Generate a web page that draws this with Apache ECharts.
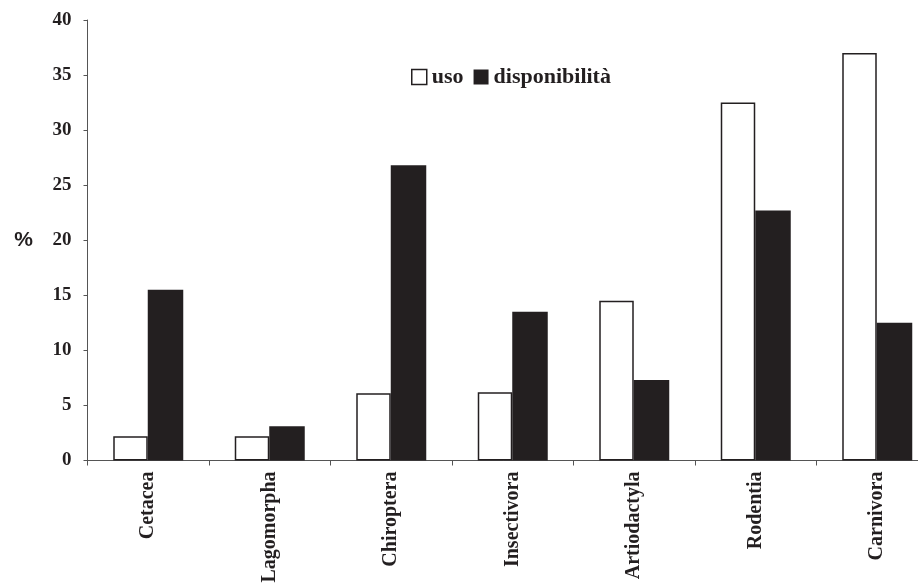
<!DOCTYPE html>
<html>
<head>
<meta charset="utf-8">
<script src="https://cdn.jsdelivr.net/npm/echarts@6/dist/echarts.min.js"></script>
<style>html,body{margin:0;padding:0;background:#fff}#c{width:918px;height:585px}</style>
</head>
<body>
<div id="c"></div>
<script>
const categories = ['Cetacea','Lagomorpha','Chiroptera','Insectivora','Artiodactyla','Rodentia','Carnivora'];
const uso = [2.2, 2.2, 6.1, 6.2, 14.5, 32.5, 37.0];
const disponibilita = [15.5, 3.1, 26.8, 13.5, 7.3, 22.7, 12.5];
const yTicks = [0, 5, 10, 15, 20, 25, 30, 35, 40];

const serif = '"Liberation Serif","Times New Roman",serif';
const chart = echarts.init(document.getElementById('c'), null, {renderer:'canvas'});
chart.setOption({
  backgroundColor: '#fff',
  animation: false,
  grid: {left: 87.5, top: 20, width: 850.5, height: 440.5, containLabel: false, outerBoundsMode: 'none'},
  legend: {
    left: 406, top: 61,
    itemWidth: 15, itemHeight: 15, itemGap: 10,
    textStyle: {fontFamily: serif, fontWeight: 'bold', fontSize: 22, color: '#231f20', padding: [0,0,0,0]},
    data: [
      {name: 'uso', icon: 'rect', itemStyle: {color: '#fff', borderColor: '#231f20', borderWidth: 1.5}},
      {name: 'disponibilità', icon: 'rect', itemStyle: {color: '#231f20'}}
    ]
  },
  xAxis: {
    type: 'category',
    data: categories,
    axisLine: {lineStyle: {color: '#555', width: 1}},
    axisTick: {show: true, length: 5, lineStyle: {color: '#555'}},
    axisLabel: {rotate: 90, margin: 11, fontFamily: serif, fontWeight: 'bold', fontSize: 20, color: '#231f20'}
  },
  yAxis: {
    type: 'value',
    min: yTicks[0], max: yTicks[yTicks.length-1], interval: 5,
    name: '%',
    nameLocation: 'middle', nameRotate: 0, nameGap: 64,
    nameTextStyle: {fontFamily: '"Liberation Sans",Arial,sans-serif', fontWeight: 'bold', fontSize: 21, color: '#231f20', align: 'center', verticalAlign: 'middle'},
    axisLine: {show: true, lineStyle: {color: '#555', width: 1}},
    axisTick: {show: true, length: 4, lineStyle: {color: '#555'}},
    splitLine: {show: false},
    axisLabel: {margin: 16, fontFamily: serif, fontWeight: 'bold', fontSize: 19, color: '#231f20'}
  },
  series: [
    {name: 'uso', type: 'bar', data: uso, barWidth: 34.5, barGap: '0%',
     itemStyle: {color: '#fff', borderColor: '#231f20', borderWidth: 1.5}},
    {name: 'disponibilità', type: 'bar', data: disponibilita, barWidth: 35.5,
     itemStyle: {color: '#231f20'}}
  ]
});
</script>
</body>
</html>
